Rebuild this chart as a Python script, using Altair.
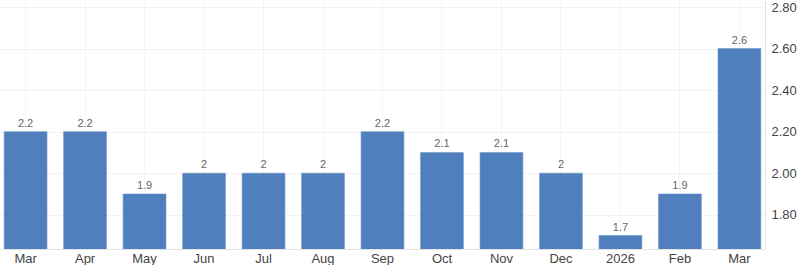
import altair as alt
import pandas as pd
import json

periods = ["2025-03", "2025-04", "2025-05", "2025-06", "2025-07", "2025-08", "2025-09",
           "2025-10", "2025-11", "2025-12", "2026-01", "2026-02", "2026-03"]
labels = ["Mar", "Apr", "May", "Jun", "Jul", "Aug", "Sep", "Oct", "Nov", "Dec", "2026", "Feb", "Mar"]
values = [2.2, 2.2, 1.9, 2.0, 2.0, 2.0, 2.2, 2.1, 2.1, 2.0, 1.7, 1.9, 2.6]
y_ticks = [1.8, 2.0, 2.2, 2.4, 2.6, 2.8]

df = pd.DataFrame({"period": periods, "value": values})
label_map = json.dumps(dict(zip(periods, labels)))

font = "Liberation Sans"

x = alt.X("period:O", sort=None,
          scale=alt.Scale(paddingInner=0.28, paddingOuter=0.07),
          axis=alt.Axis(title=None, labelExpr=f"{label_map}[datum.value]", labelAngle=0,
                        labelFont=font, labelFontSize=13, labelColor="#444444",
                        labelPadding=3, ticks=False, domain=True, domainColor="#e3e3e3",
                        grid=True, gridColor="#ececec", gridDash=[1, 1], bandPosition=0.5))

y = alt.Y("value:Q",
          scale=alt.Scale(domain=[1.635, 2.834], nice=False, zero=False),
          axis=alt.Axis(title=None, orient="right", values=y_ticks, format=".2f",
                        labelFont=font, labelFontSize=13, labelColor="#444444",
                        labelPadding=6, ticks=False, domain=True, domainColor="#e3e3e3",
                        grid=True, gridColor="#e6e6e6", gridDash=[1, 1]))

bars = alt.Chart(df).mark_bar(color="#4f80bd", stroke="#6a94c8", strokeWidth=0.6, clip=True).encode(x=x, y=y)

text = alt.Chart(df).mark_text(baseline="bottom", dy=-3, font=font, fontSize=11, color="#666666").encode(
    x=alt.X("period:O", sort=None), y=alt.Y("value:Q"), text=alt.Text("value:Q"))

chart = alt.layer(bars, text).properties(width=765, height=249, padding=0).configure_view(stroke=None)

chart.save("out.html", embed_options={"renderer": "svg", "actions": False})
